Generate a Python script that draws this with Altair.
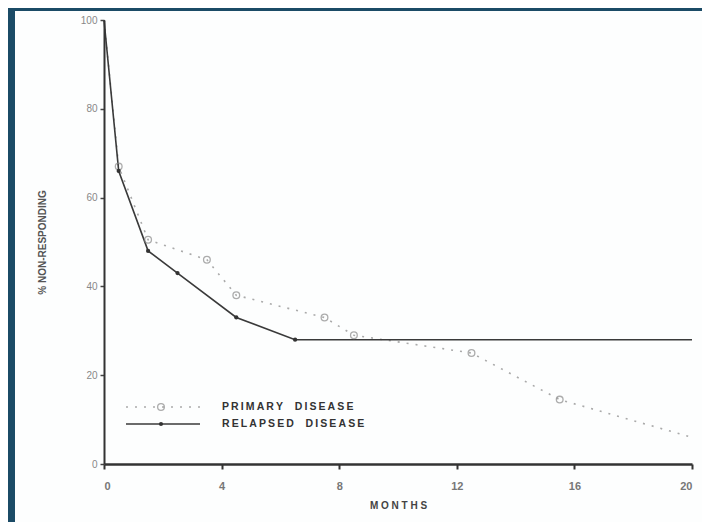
import altair as alt
import pandas as pd

# Primary disease (dotted line, open circles)
primary_months = [0, 0.5, 1.5, 3.5, 4.5, 7.5, 8.5, 12.5, 15.5, 20]
primary_pct = [100, 67, 50.5, 46, 38, 33, 29, 25, 14.5, 6]

# Relapsed disease (solid line, filled dots)
relapsed_months = [0, 0.5, 1.5, 2.5, 4.5, 6.5, 20]
relapsed_pct = [100, 66, 48, 43, 33, 28, 28]

x_ticks = [0, 4, 8, 12, 16, 20]
y_ticks = [0, 20, 40, 60, 80, 100]

NB = "\u00a0"
TS = "\u2009"
legend_labels = [TS.join("PRIMARY") + NB * 4 + TS.join("DISEASE"),
                 TS.join("RELAPSED") + NB * 4 + TS.join("DISEASE")]

prim = pd.DataFrame({"month": primary_months, "pct": primary_pct})
rel = pd.DataFrame({"month": relapsed_months, "pct": relapsed_pct})

W, H = 588, 444
FONT = "Liberation Sans"

xs = alt.Scale(domain=[0, 20], nice=False)
ys = alt.Scale(domain=[0, 100], nice=False)

x_axis = alt.Axis(values=x_ticks, title="M O N T H S", grid=False, domain=True, zindex=2,
                  domainColor="#333", domainWidth=2.5, tickColor="#333", tickSize=5,
                  tickWidth=2, labelColor="#777", labelFontSize=11, labelPadding=11,
                  labelFont=FONT, titleFont=FONT, titleFontSize=10, titleFontWeight="bold",
                  titleColor="#444", titlePadding=9, labelFontWeight="bold")
y_axis = alt.Axis(values=y_ticks, title="%  NON-RESPONDING", grid=False, domain=True, zindex=2,
                  domainColor="#333", domainWidth=2, tickColor="#444", tickSize=4,
                  tickWidth=1.5, labelColor="#888", labelFontSize=10, labelPadding=3,
                  labelFont=FONT, titleFont=FONT, titleFontSize=10, titleFontWeight="bold",
                  titleColor="#555", titlePadding=33)

one = pd.DataFrame({"a": [0]})

panel = alt.Chart(one).mark_rect(color="#fdfefe").encode(
    x=alt.value(-89), x2=alt.value(602), y=alt.value(-9), y2=alt.value(530)
)

prim_line = alt.Chart(prim).mark_line(color="#aaaaaa", strokeWidth=1.6, strokeDash=[2, 7]).encode(
    x=alt.X("month:Q", scale=xs, axis=x_axis),
    y=alt.Y("pct:Q", scale=ys, axis=y_axis),
)
prim_pts = alt.Chart(prim).transform_filter(
    "datum.month > 0 && datum.month < 20"
).mark_point(shape="circle", filled=False, color="#8a8a8a", size=45, strokeWidth=1.3).encode(
    x=alt.X("month:Q", scale=xs), y=alt.Y("pct:Q", scale=ys)
)

rel_line = alt.Chart(rel).mark_line(color="#3a3a3a", strokeWidth=1.6).encode(
    x=alt.X("month:Q", scale=xs), y=alt.Y("pct:Q", scale=ys)
)
rel_pts = alt.Chart(rel).transform_filter(
    "datum.month > 0 && datum.month < 20"
).mark_point(shape="circle", filled=True, color="#333333", size=18, opacity=1).encode(
    x=alt.X("month:Q", scale=xs), y=alt.Y("pct:Q", scale=ys)
)

# manual legend
leg_prim_line = alt.Chart(one).mark_rule(color="#aaaaaa", strokeWidth=1.6, strokeDash=[2, 7]).encode(
    x=alt.value(22), x2=alt.value(96), y=alt.value(387))
leg_prim_pt = alt.Chart(one).mark_point(shape="circle", filled=False, color="#8a8a8a", size=45,
                                        strokeWidth=1.3).encode(x=alt.value(57), y=alt.value(387))
leg_rel_line = alt.Chart(one).mark_rule(color="#3a3a3a", strokeWidth=1.6).encode(
    x=alt.value(22), x2=alt.value(96), y=alt.value(404))
leg_rel_pt = alt.Chart(one).mark_point(shape="circle", filled=True, color="#333", size=18,
                                       opacity=1).encode(x=alt.value(57), y=alt.value(404))
text_style = dict(align="left", baseline="middle", font=FONT, fontSize=10.5,
                  fontWeight="bold", color="#333")
leg_text1 = alt.Chart(one).mark_text(text=legend_labels[0], **text_style).encode(
    x=alt.value(118), y=alt.value(387))
leg_text2 = alt.Chart(one).mark_text(text=legend_labels[1], **text_style).encode(
    x=alt.value(118), y=alt.value(404))

chart = alt.layer(
    panel, prim_line, rel_line, prim_pts, rel_pts,
    leg_prim_line, leg_prim_pt, leg_rel_line, leg_rel_pt, leg_text1, leg_text2
).properties(
    width=W, height=H,
    background="#1b4b66",
    padding={"left": 96, "top": 12, "right": 10, "bottom": 58},
    autosize=alt.AutoSizeParams(type="none"),
).configure_view(stroke=None)

chart.save("out.html", embed_options={"renderer": "svg", "actions": False})
